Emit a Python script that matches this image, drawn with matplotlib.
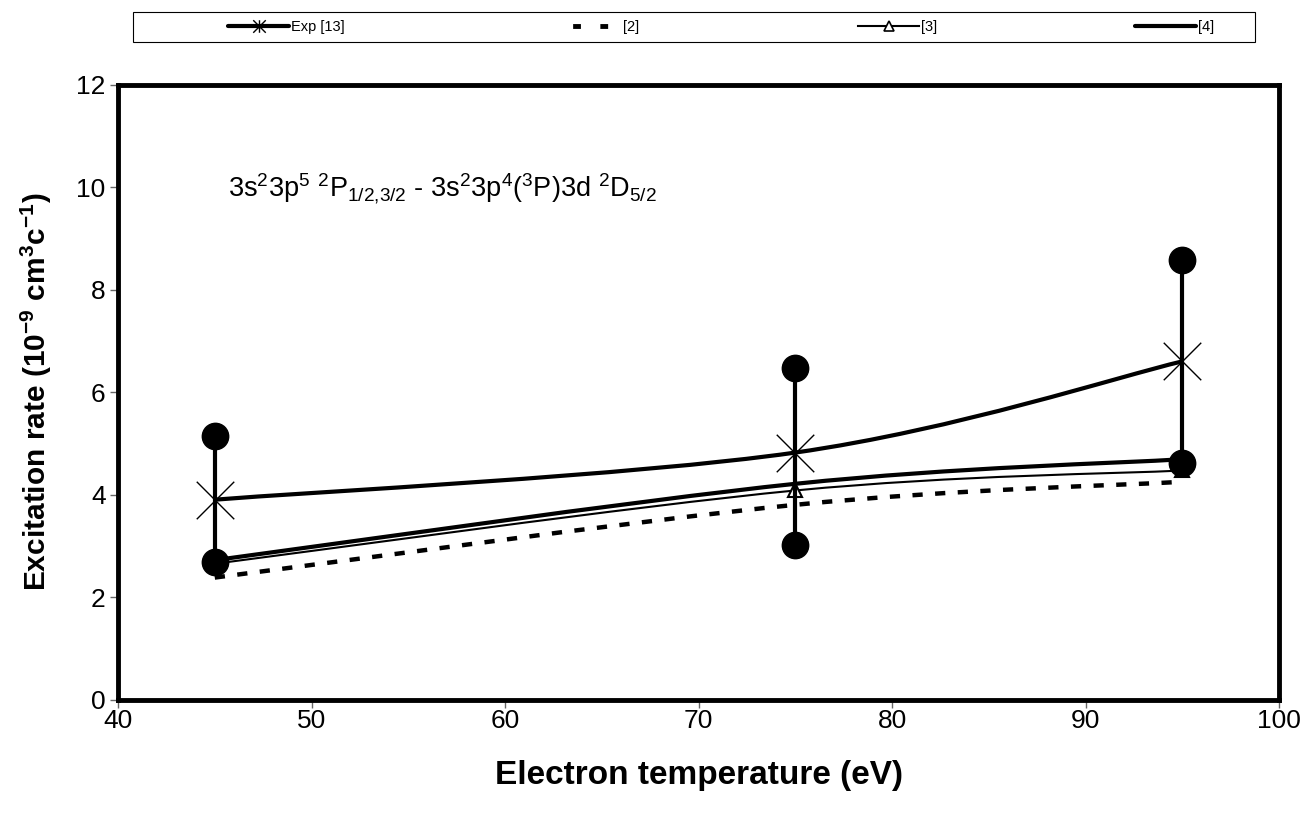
import matplotlib
matplotlib.use("Agg")
import matplotlib.pyplot as plt
import numpy as np
from matplotlib.path import Path
from matplotlib.patches import PathPatch, Rectangle
from matplotlib.lines import Line2D

plt.rcParams['font.family'] = ['Liberation Sans', 'DejaVu Sans']
plt.rcParams['mathtext.fontset'] = 'custom'
plt.rcParams['mathtext.rm'] = 'Liberation Sans'
plt.rcParams['mathtext.it'] = 'Liberation Sans:italic'
plt.rcParams['mathtext.bf'] = 'Liberation Sans:bold'

# data
temps = [45, 75, 95]
exp13 = [3.9, 4.82, 6.6]
exp_low = [2.68, 3.01, 4.62]
exp_high = [5.15, 6.48, 8.58]
ref2 = [2.38, 3.8, 4.25]
ref3 = [2.65, 4.08, 4.47]
ref4 = [2.72, 4.21, 4.69]
labels = ['Exp [13]', '[2]', '[3]', '[4]']


def smooth_path(xs, ys):
    # excel-like smoothed line: bezier through the data points
    pts = np.column_stack([xs, ys]).astype(float)
    n = len(pts)
    verts = [pts[0]]
    codes = [Path.MOVETO]
    for i in range(n - 1):
        pp = pts[max(i - 1, 0)]
        p0 = pts[i]
        p1 = pts[i + 1]
        pn = pts[min(i + 2, n - 1)]
        verts += [p0 + (p1 - pp) / 6, p1 - (pn - p0) / 6, p1]
        codes += [Path.CURVE4] * 3
    return Path(verts, codes)


def add_smooth(ax, xs, ys, **kw):
    p = PathPatch(smooth_path(xs, ys), fill=False, **kw)
    p.set_capstyle('butt')
    ax.add_patch(p)
    return p


# star marker: x with a vertical bar
star = Path([(-1, -1), (1, 1), (-1, 1), (1, -1), (0, -1), (0, 1)],
            [Path.MOVETO, Path.LINETO, Path.MOVETO, Path.LINETO, Path.MOVETO, Path.LINETO])
xmark = Path([(-1, -1), (1, 1), (-1, 1), (1, -1)],
             [Path.MOVETO, Path.LINETO, Path.MOVETO, Path.LINETO])

fig = plt.figure(figsize=(13.07, 8.13), dpi=100)
ax = fig.add_axes([0.0903, 0.1396, 0.8883, 0.7562])

add_smooth(ax, temps, ref2, color='k', lw=3.2, linestyle=(0, (2.3, 2.8)), zorder=2)
add_smooth(ax, temps, ref3, color='k', lw=1.5, zorder=2)
ax.plot(temps, ref3, ls='none', marker='^', ms=10, mfc='white', mec='k', mew=1.5, zorder=2)
add_smooth(ax, temps, ref4, color='k', lw=3, zorder=3)
add_smooth(ax, temps, exp13, color='k', lw=3, zorder=3)

# error bars with round ends
for t, lo, hi in zip(temps, exp_low, exp_high):
    ax.plot([t, t], [lo, hi], color='k', lw=3, zorder=4)
ax.plot(temps, exp_low, ls='none', marker='o', ms=19, color='k', zorder=5)
ax.plot(temps, exp_high, ls='none', marker='o', ms=19, color='k', zorder=5)
ax.plot(temps, exp13, ls='none', marker=xmark, ms=27, mew=1, mec='k', zorder=6)

ax.text(45.7, 9.8,
        r'3s$^2$3p$^5$ $^2$P$_{1/2{,}3/2}$ - 3s$^2$3p$^4$($^3$P)3d $^2$D$_{5/2}$',
        fontsize=19.5, va='baseline', ha='left')

ax.set_xlim(40, 100)
ax.set_ylim(0, 12)
ax.set_xticks(range(40, 101, 10))
ax.set_yticks(range(0, 13, 2))
ax.tick_params(direction='out', length=6, width=1, color='0.4', labelsize=19, pad=3)
ax.tick_params(axis='x', pad=1)
for s in ax.spines.values():
    s.set_linewidth(3.5)

ax.set_xlabel('Electron temperature (eV)', fontsize=24, fontweight='bold', va='center')
ax.xaxis.set_label_coords(0.5, -0.123)
ax.set_ylabel(r'Excitation rate (10$^{\mathbf{-9}}$ cm$^{\mathbf{3}}$c$^{\mathbf{-1}}$)',
              fontsize=21.5, fontweight='bold', va='center')
ax.yaxis.set_label_coords(-0.0705, 0.5)

# legend box across the top
fig.patches.append(Rectangle((0.1018, 0.9483), 0.8585, 0.0369, transform=fig.transFigure,
                             fill=False, lw=0.8, edgecolor='k'))
handles = [
    Line2D([], [], color='k', lw=3, marker=star, ms=9, mew=1, mfc='none', solid_capstyle='round'),
    Line2D([], [], color='k', lw=3.5, linestyle=(3, (1.6, 4))),
    Line2D([], [], color='k', lw=1.5, marker='^', ms=7, mfc='white', mew=1.2),
    Line2D([], [], color='k', lw=3, solid_capstyle='round'),
]
leg_x = [0.1744, 0.4285, 0.6565, 0.8684]
for h, lab, lx in zip(handles, labels, leg_x):
    fig.legend(handles=[h], labels=[lab], loc='center left', bbox_to_anchor=(lx, 0.9668),
               frameon=False, handlelength=4.2, handletextpad=0.12, borderpad=0,
               borderaxespad=0, prop={'size': 10.5})

fig.savefig('out.png', dpi=100)
